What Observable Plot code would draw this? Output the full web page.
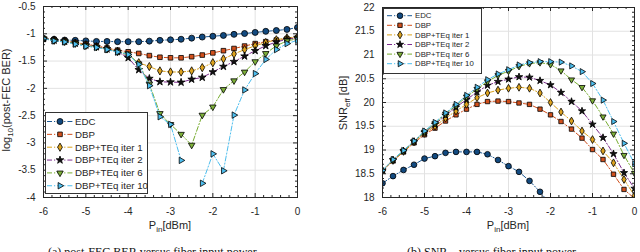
<!DOCTYPE html>
<html><head><meta charset="utf-8">
<script src="https://cdn.jsdelivr.net/npm/d3@7"></script>
<script src="https://cdn.jsdelivr.net/npm/@observablehq/plot@0.6"></script>
<style>
body{margin:0;background:#fff;}
#wrap{position:relative;width:640px;height:252px;overflow:hidden;font-family:"Liberation Sans",Arial,sans-serif;background:#fff;}
#wrap > svg{position:absolute;}
.cap{position:absolute;font-family:"Liberation Serif","Times New Roman",serif;font-size:12px;white-space:nowrap;color:#111;}
</style></head><body><div id="wrap"></div>
<script>
// ---------- data ----------
const xPin = [-6,-5.75,-5.5,-5.25,-5,-4.75,-4.5,-4.25,-4,-3.75,-3.5,-3.25,-3,-2.75,-2.5,-2.25,-2,-1.75,-1.5,-1.25,-1,-0.75,-0.5,-0.25,0];
const seriesNames = ["EDC","DBP","DBP+TEq iter 1","DBP+TEq iter 2","DBP+TEq iter 6","DBP+TEq iter 10"];

// (a) log10(post-FEC BER)
const berEDC  = [-1.085,-1.10,-1.115,-1.12,-1.13,-1.14,-1.14,-1.145,-1.145,-1.145,-1.135,-1.12,-1.11,-1.10,-1.08,-1.06,-1.045,-1.03,-1.01,-0.995,-0.975,-0.955,-0.94,-0.92,-0.885];
const berDBP  = [-1.09,-1.11,-1.13,-1.16,-1.19,-1.22,-1.26,-1.30,-1.33,-1.36,-1.40,-1.43,-1.44,-1.44,-1.42,-1.39,-1.35,-1.31,-1.27,-1.225,-1.18,-1.145,-1.115,-1.09,-1.07];
const berIt1  = [-1.09,-1.115,-1.135,-1.17,-1.20,-1.235,-1.27,-1.32,-1.40,-1.53,-1.60,-1.68,-1.70,-1.70,-1.68,-1.62,-1.53,-1.46,-1.37,-1.29,-1.22,-1.16,-1.11,-1.075,-1.055];
const berIt2  = [-1.09,-1.12,-1.14,-1.175,-1.21,-1.24,-1.28,-1.33,-1.44,-1.66,-1.82,-1.88,-1.885,-1.89,-1.835,-1.80,-1.70,-1.60,-1.51,-1.41,-1.31,-1.22,-1.15,-1.10,-1.07];
const berIt6  = [-1.09,-1.125,-1.145,-1.18,-1.22,-1.245,-1.285,-1.33,-1.37,-1.55,-1.92,-2.46,-2.66,-2.84,-3.04,-2.49,-2.34,-2.02,-1.86,-1.70,-1.51,-1.36,-1.22,-1.13,-1.09];
const berIt10 = [-1.09,-1.13,-1.15,-1.19,-1.23,-1.25,-1.29,-1.335,-1.38,-1.56,-1.95,-2.52,-2.66,-3.32,null,-3.74,-3.20,-3.51,-2.49,-2.03,-1.73,-1.47,-1.29,-1.18,-1.12];

// (b) SNR_eff [dB]
const snrEDC  = [18.30,18.45,18.58,18.69,18.82,18.87,18.94,18.96,18.96,18.96,18.91,18.79,18.66,18.54,18.35,18.12,17.85,null,null,null,null,null,null,null,null];
const snrDBP  = [18.56,18.77,18.96,19.15,19.32,19.46,19.61,19.74,19.86,19.96,20.02,20.03,20.02,19.99,19.96,19.86,19.74,19.60,19.44,19.25,19.01,18.80,18.49,18.17,17.98];
const snrIt1  = [18.57,18.78,18.97,19.17,19.35,19.50,19.67,19.82,19.96,20.10,20.20,20.26,20.30,20.32,20.30,20.20,20.00,19.80,19.61,19.40,19.22,18.98,18.73,18.38,18.04];
const snrIt2  = [18.57,18.79,18.98,19.18,19.37,19.54,19.73,19.90,20.06,20.22,20.36,20.44,20.49,20.54,20.53,20.46,20.37,20.21,20.02,19.82,19.54,19.26,18.92,18.52,18.19];
const snrIt6  = [18.57,18.79,18.98,19.18,19.38,19.56,19.76,19.93,20.12,20.28,20.44,20.57,20.66,20.76,20.82,20.84,20.80,20.67,20.48,20.32,20.04,19.70,19.34,18.89,18.51];
const snrIt10 = [18.57,18.80,18.99,19.19,19.40,19.58,19.78,19.96,20.15,20.32,20.48,20.60,20.69,20.79,20.84,20.86,20.86,20.85,20.77,20.65,20.40,20.05,19.60,19.14,18.71];

const xTicks = [-6,-5,-4,-3,-2,-1,0];
const berTicks = [-4,-3.5,-3,-2.5,-2,-1.5,-1,-0.5];
const snrTicks = [18,18.5,19,19.5,20,20.5,21,21.5,22];

// ---------- styles ----------
const styles = [
  {line:"#1d5a94", fill:"#124a80", symbol:"circle",   r:3.0, rotate:0},
  {line:"#cf4f1c", fill:"#d2501c", symbol:"square",   r:2.6, rotate:0},
  {line:"#d9a11c", fill:"#dca21e", symbol:"diamond",  r:2.5, rotate:0},
  {line:"#7E2F8E", fill:"#111111", symbol:"star",     r:2.4, rotate:0},
  {line:"#77AC30", fill:"#7db03a", symbol:"triangle", r:2.4, rotate:180},
  {line:"#4DBEEE", fill:"#4dbeee", symbol:"triangle", r:2.4, rotate:90}
];
const frameColor = "#262626";

function rowsOf(values){ return xPin.map((x,i)=>({x, y: values[i]})); }

function panel({series, yDomain, yTicks, yMinorStep, mLeft, mRight, mTop, mBottom, rs}){
  const W = 320, H = 240;
  const innerW = W - mLeft - mRight, innerH = H - mTop - mBottom;
  const xMinor = d3.range(-6, 0.0001, 0.2).map(v=>+v.toFixed(2)).filter(v=>!xTicks.some(t=>Math.abs(t-v)<1e-6));
  const yMinor = d3.range(yDomain[0], yDomain[1]+1e-6, yMinorStep).map(v=>+v.toFixed(2)).filter(v=>!yTicks.some(t=>Math.abs(t-v)<1e-6));
  const marks = [
    Plot.ruleX(xTicks.slice(1,-1), {x:d=>d, stroke:"#e2e2e2", strokeWidth:1}),
    Plot.ruleY(yTicks.slice(1,-1), {y:d=>d, stroke:"#e2e2e2", strokeWidth:1}),
  ];
  series.forEach((vals, k) => {
    const st = styles[k];
    const data = rowsOf(vals);
    marks.push(Plot.line(data, {x:"x", y:"y", stroke:st.line, strokeWidth:1, strokeDasharray:"5,2,1.2,2", clip:true}));
    marks.push(Plot.dot(data.filter(d=>d.y!=null), {x:"x", y:"y", symbol:st.symbol, r:st.r*rs, rotate:st.rotate, fill:st.fill, stroke:"#000", strokeWidth:0.8, clip:true}));
  });
  marks.push(
    Plot.tickX(xTicks, {x:d=>d, insetTop: innerH-4, stroke:frameColor}),
    Plot.tickX(xTicks, {x:d=>d, insetBottom: innerH-4, stroke:frameColor}),
    Plot.tickX(xMinor, {x:d=>d, insetTop: innerH-2, stroke:frameColor}),
    Plot.tickX(xMinor, {x:d=>d, insetBottom: innerH-2, stroke:frameColor}),
    Plot.tickY(yTicks, {y:d=>d, insetRight: innerW-4, stroke:frameColor}),
    Plot.tickY(yTicks, {y:d=>d, insetLeft: innerW-4, stroke:frameColor}),
    Plot.tickY(yMinor, {y:d=>d, insetRight: innerW-2, stroke:frameColor}),
    Plot.tickY(yMinor, {y:d=>d, insetLeft: innerW-2, stroke:frameColor}),
    Plot.frame({stroke:frameColor, strokeWidth:1})
  );
  return Plot.plot({
    width: W, height: H,
    marginLeft: mLeft, marginRight: mRight, marginTop: mTop, marginBottom: mBottom,
    style: {fontFamily:'"Liberation Sans", Arial, sans-serif', fontSize:"10px", color:frameColor, background:"transparent"},
    x: {domain:[-6,0], ticks:xTicks, tickSize:0, tickPadding:10, tickFormat:d=>String(d), label:null},
    y: {domain:yDomain, ticks:yTicks, tickSize:0, tickPadding:8, tickFormat:d=>String(d), label:null},
    marks
  });
}

const wrap = document.getElementById("wrap");

const left = panel({
  series:[berEDC,berDBP,berIt1,berIt2,berIt6,berIt10],
  yDomain:[-4,-0.5], yTicks:berTicks, yMinorStep:0.1,
  mLeft:43, mRight:23, mTop:6, mBottom:43, rs:1
});
left.style.left = "0px"; left.style.top = "0px";
wrap.appendChild(left);

const right = panel({
  series:[snrEDC,snrDBP,snrIt1,snrIt2,snrIt6,snrIt10],
  yDomain:[18,22], yTicks:snrTicks, yMinorStep:0.1,
  mLeft:62, mRight:6, mTop:7, mBottom:43, rs:0.95
});
right.style.left = "320px"; right.style.top = "0px";
wrap.appendChild(right);

// ---------- overlay: axis titles and legends ----------
const ov = d3.select(wrap).append("svg")
  .attr("width",640).attr("height",252)
  .style("left","0px").style("top","0px")
  .attr("font-family",'"Liberation Sans", Arial, sans-serif')
  .attr("fill",frameColor);

function pinLabel(cx, y){
  const t = ov.append("text").attr("x",cx).attr("y",y).attr("text-anchor","middle").attr("font-size",11);
  t.append("tspan").text("P");
  t.append("tspan").attr("dy",3).attr("font-size",8).text("in");
  t.append("tspan").attr("dy",-3).text("[dBm]");
}
pinLabel(170, 229);
pinLabel(508, 229);

{
  const t = ov.append("text").attr("transform","translate(10,100) rotate(-90)").attr("text-anchor","middle").attr("font-size",11);
  t.append("tspan").text("log");
  t.append("tspan").attr("dy",3).attr("font-size",8).text("10");
  t.append("tspan").attr("dy",-3).text("(post-FEC BER)");
}
{
  const t = ov.append("text").attr("transform","translate(347,103) rotate(-90)").attr("text-anchor","middle").attr("font-size",11);
  t.append("tspan").text("SNR");
  t.append("tspan").attr("dy",3).attr("font-size",8).text("eff");
  t.append("tspan").attr("dy",-3).text(" [dB]");
}

const symType = {circle:d3.symbolCircle, square:d3.symbolSquare, diamond:d3.symbolDiamond, star:d3.symbolStar, triangle:d3.symbolTriangle};

function legend({x0,y0,w,h,row0,dy,l1,l2,mx,tx,fs,scale}){
  const g = ov.append("g");
  g.append("rect").attr("x",x0+0.5).attr("y",y0+0.5).attr("width",w).attr("height",h)
    .attr("fill","#fff").attr("stroke","#333").attr("stroke-width",1);
  seriesNames.forEach((name,k)=>{
    const st = styles[k], y = row0 + k*dy;
    g.append("line").attr("x1",l1).attr("x2",l2).attr("y1",y).attr("y2",y)
      .attr("stroke",st.line).attr("stroke-width",1).attr("stroke-dasharray","5,2,1.2,2");
    const r = st.r*scale;
    g.append("path").attr("d", d3.symbol(symType[st.symbol], Math.PI*r*r)())
      .attr("transform",`translate(${mx},${y}) rotate(${st.rotate})`)
      .attr("fill",st.fill).attr("stroke","#000").attr("stroke-width",0.8);
    g.append("text").attr("x",tx).attr("y",y).attr("dy","0.35em").attr("font-size",fs).text(name);
  });
}
legend({x0:45, y0:112, w:102, h:81, row0:121.5, dy:12.85, l1:47, l2:73, mx:60, tx:75, fs:9.7, scale:1});
legend({x0:383, y0:8, w:98, h:65, row0:15.7, dy:9.6, l1:387, l2:412, mx:400, tx:415, fs:7.8, scale:0.95});

// ---------- captions (cut by the bottom edge, as in the reference) ----------
const capA = document.createElement("div");
capA.className = "cap"; capA.style.left = "48px"; capA.style.top = "245px";
capA.textContent = "(a) post-FEC BER versus fiber input power";
wrap.appendChild(capA);
const capB = document.createElement("div");
capB.className = "cap"; capB.style.left = "407px"; capB.style.top = "245px";
capB.innerHTML = "(b) SNR<sub style='font-size:8px'>eff</sub> versus fiber input power";
wrap.appendChild(capB);
</script>
</body></html>
